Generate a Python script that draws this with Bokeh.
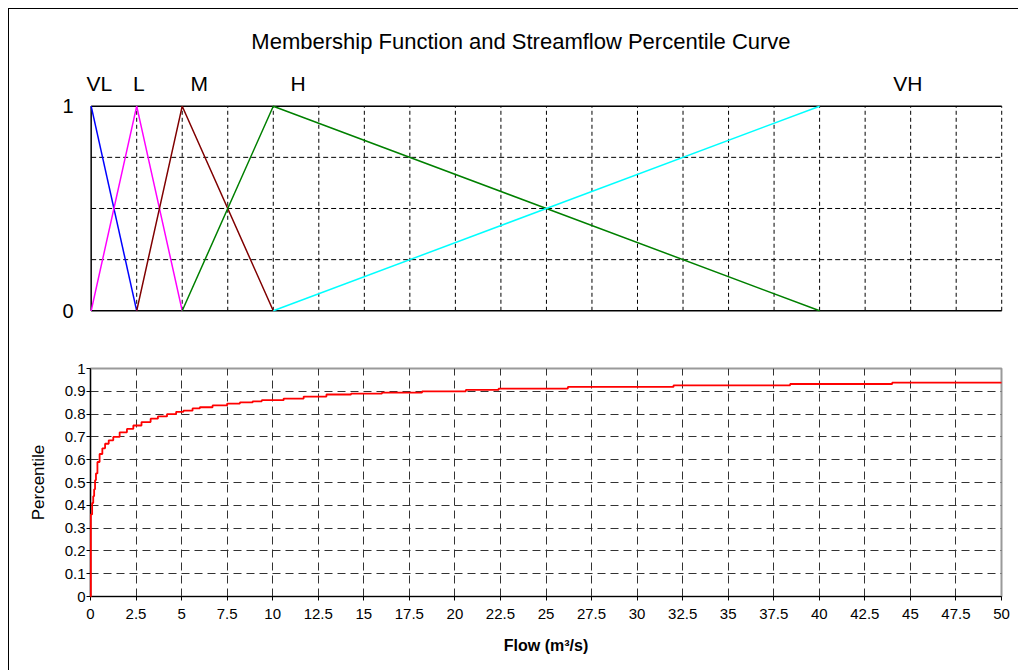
from bokeh.plotting import figure
from bokeh.layouts import column
from bokeh.models import FixedTicker, Range1d
from bokeh.core.properties import value
from bokeh.embed import file_html
from bokeh.resources import INLINE

FONT = "Liberation Sans"

title_text = "Membership Function and Streamflow Percentile Curve"

# Membership functions (flow, membership degree)
vl_x = [0, 2.5]
vl_y = [1, 0]
l_x = [0, 2.5, 5]
l_y = [0, 1, 0]
m_x = [2.5, 5, 10]
m_y = [0, 1, 0]
h_x = [5, 10, 40]
h_y = [0, 1, 0]
vh_x = [10, 40]
vh_y = [0, 1]

class_names = ["VL", "L", "M", "H", "VH"]
class_label_x = [-0.25, 2.3, 5.45, 10.95, 44.05]
class_label_y = [1.111, 1.111, 1.111, 1.111, 1.111]

flow = [0, 0.02, 0.09, 0.15, 0.2, 0.25, 0.3, 0.38, 0.5, 0.65, 0.8, 1.0, 1.25,
        1.6, 2.0, 2.35, 2.8, 3.3, 3.7, 4.2, 4.7, 5.1, 5.6, 6.0, 6.7, 7.5, 8.2,
        8.9, 9.4, 10.6, 11.7, 12.95, 14.3, 16.0, 18.2, 20.6, 22.4, 26.2, 32.0,
        38.4, 44.0, 50.0]
percentile = [0, 0.36, 0.41, 0.44, 0.47, 0.51, 0.54, 0.59, 0.625, 0.65, 0.67,
              0.685, 0.70, 0.72, 0.735, 0.75, 0.765, 0.78, 0.79, 0.80, 0.81,
              0.815, 0.825, 0.83, 0.838, 0.846, 0.851, 0.856, 0.861, 0.868,
              0.877, 0.886, 0.89, 0.8945, 0.90, 0.906, 0.912, 0.919, 0.926,
              0.932, 0.938, 0.938]

x_ticks = [0, 2.5, 5, 7.5, 10, 12.5, 15, 17.5, 20, 22.5, 25, 27.5, 30, 32.5,
           35, 37.5, 40, 42.5, 45, 47.5, 50]
x_tick_labels = ["0", "2.5", "5", "7.5", "10", "12.5", "15", "17.5", "20",
                 "22.5", "25", "27.5", "30", "32.5", "35", "37.5", "40",
                 "42.5", "45", "47.5", "50"]
top_y_ticks = [0, 1]
top_grid_y = [0.25, 0.5, 0.75]
pct_ticks = [0, 0.1, 0.2, 0.3, 0.4, 0.5, 0.6, 0.7, 0.8, 0.9, 1]
pct_tick_labels = ["0", "0.1", "0.2", "0.3", "0.4", "0.5", "0.6", "0.7",
                   "0.8", "0.9", "1"]

W = 1009

# ---------------- header strip: title ----------------
# x in flow units (same scale as the charts), y in pixels from the top
p0 = figure(width=W, height=60, x_range=Range1d(-4.484, 50.92),
            y_range=Range1d(60, 0), output_backend="svg",
            toolbar_location=None, x_axis_location=None,
            y_axis_location=None, min_border=0, min_border_left=0,
            min_border_right=0, min_border_top=0, min_border_bottom=0,
            frame_align=False)
p0.grid.visible = False
p0.outline_line_color = None
p0.text(x=[23.6], y=[32], text=[title_text], text_font=value(FONT),
        text_font_size="22px", text_color="black", text_align="center",
        text_baseline="middle")

# ---------------- top: membership functions ----------------
p1 = figure(width=W, height=271, x_range=Range1d(-0.311, 50.208),
            y_range=Range1d(-0.0279, 1.1745), output_backend="svg",
            toolbar_location=None, x_axis_location=None,
            min_border_left=76, min_border_right=13,
            min_border_top=1, min_border_bottom=24, frame_align=False)
p1.grid.visible = False
p1.outline_line_color = None
ya = p1.yaxis[0]
ya.ticker = FixedTicker(ticks=top_y_ticks)
ya.major_label_text_font = FONT
ya.major_label_text_font_size = "20px"
ya.major_label_text_color = "black"
ya.axis_line_color = None
ya.major_tick_line_color = None
ya.minor_tick_line_color = None
ya.major_tick_out = 0
ya.major_label_standoff = 12

x_lo, x_hi = x_ticks[0], x_ticks[-1]
vgrid = x_ticks[1:]
p1.segment(x0=vgrid, y0=[0] * len(vgrid), x1=vgrid, y1=[1] * len(vgrid),
           line_color="black", line_width=1, line_dash="4 3")
p1.segment(x0=[x_lo] * 3, y0=top_grid_y, x1=[x_hi] * 3, y1=top_grid_y,
           line_color="black", line_width=1, line_dash="5 3")
p1.segment(x0=[x_lo, x_lo, x_lo], y0=[0, 1, 0], x1=[x_hi, x_hi, x_lo],
           y1=[0, 1, 1], line_color="black", line_width=1.5)

p1.line(vl_x, vl_y, line_color="#0000FF", line_width=1.5)
p1.line(l_x, l_y, line_color="#FF00FF", line_width=1.5)
p1.line(m_x, m_y, line_color="#800000", line_width=1.5)
p1.line(h_x, h_y, line_color="#008000", line_width=1.5)
p1.line(vh_x, vh_y, line_color="#00FFFF", line_width=1.5)

p1.text(x=class_label_x, y=class_label_y, text=class_names,
        text_font=value(FONT), text_font_size="21px", text_color="black",
        text_align="left", text_baseline="middle")

# ---------------- bottom: percentile curve ----------------
p2 = figure(width=W, height=330, x_range=Range1d(0, 50),
            y_range=Range1d(0, 1), output_backend="svg",
            toolbar_location=None, min_border_left=81, min_border_right=17,
            min_border_top=28, min_border_bottom=74, frame_align=False)
p2.outline_line_color = "#9a9a9a"
p2.outline_line_width = 2

curve = p2.step(flow, percentile, mode="after", line_color="#FF0000",
                line_width=1.8)
curve.level = "overlay"

xa = p2.xaxis[0]
xa.ticker = FixedTicker(ticks=x_ticks)
xa.major_label_overrides = {t: s for t, s in zip(x_ticks, x_tick_labels)}
xa.axis_label = "Flow (m³/s)"
xa.axis_label_text_font = FONT
xa.axis_label_text_font_size = "16px"
xa.axis_label_text_font_style = "bold"
xa.axis_label_text_color = "black"
xa.axis_label_standoff = 15

ya2 = p2.yaxis[0]
ya2.ticker = FixedTicker(ticks=pct_ticks)
ya2.major_label_overrides = {t: s for t, s in zip(pct_ticks, pct_tick_labels)}
ya2.axis_label = "Percentile"
ya2.axis_label_text_font = FONT
ya2.axis_label_text_font_size = "17px"
ya2.axis_label_text_font_style = "normal"
ya2.axis_label_text_color = "black"
ya2.axis_label_standoff = 14

for ax in (xa, ya2):
    ax.major_label_text_font = FONT
    ax.major_label_text_font_size = "15px"
    ax.major_label_text_color = "black"
    ax.axis_line_color = "black"
    ax.axis_line_width = 1.2
    ax.major_tick_line_color = "black"
    ax.major_tick_in = 0
    ax.major_tick_out = 4
    ax.minor_tick_line_color = None
xa.major_label_standoff = 8
ya2.major_label_standoff = 1

p2.xgrid.ticker = FixedTicker(ticks=x_ticks[1:-1])
p2.ygrid.ticker = FixedTicker(ticks=pct_ticks[1:-1])
for g in (p2.xgrid[0], p2.ygrid[0]):
    g.grid_line_color = "#333333"
    g.grid_line_width = 1
    g.grid_line_dash = "8 5"

layout = column(p0, p1, p2, styles={"margin-left": "8px", "margin-top": "8px",
                                    "border-top": "1px solid black",
                                    "border-left": "1px solid black"})

open("out.html", "w").write(file_html(layout, INLINE))
